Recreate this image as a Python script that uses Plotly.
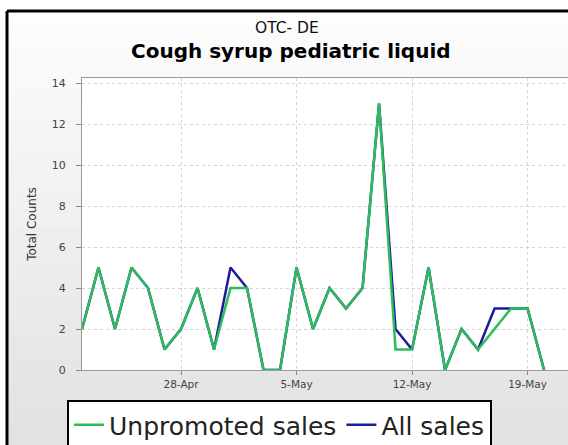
import pandas as pd
import plotly.graph_objects as go

dates = pd.date_range("2012-04-22", "2012-05-20", freq="D")
all_sales = [2, 5, 2, 5, 4, 1, 2, 4, 1, 5, 4, 0, 0, 5, 2, 4, 3, 4, 13, 2, 1, 5, 0, 2, 1, 3, 3, 3, 0]
unpromoted_sales = [2, 5, 2, 5, 4, 1, 2, 4, 1, 4, 4, 0, 0, 5, 2, 4, 3, 4, 13, 1, 1, 5, 0, 2, 1, 2, 3, 3, 0]
tick_dates = ["2012-04-28", "2012-05-05", "2012-05-12", "2012-05-19"]
tick_labels = ["28-Apr", "5-May", "12-May", "19-May"]
y_ticks = [0, 2, 4, 6, 8, 10, 12, 14]

W, H = 568, 445
ML, MR, MT, MB = 82, 0, 78, 75
pw, ph = W - ML - MR, H - MT - MB


def px(x):
    # window x pixel -> paper coordinate
    return (x - ML) / pw


def py(y):
    # window y pixel -> paper coordinate
    return (H - MB - y) / ph


fig = go.Figure()
fig.add_trace(
    go.Scatter(
        x=dates, y=all_sales, mode="lines", name="All sales",
        line=dict(color="#1c1c9c", width=2.5), legendrank=2,
    )
)
fig.add_trace(
    go.Scatter(
        x=dates, y=unpromoted_sales, mode="lines", name="Unpromoted sales",
        line=dict(color="#2dbb5c", width=2.5), legendrank=1,
    )
)

# soft vertical gradient behind the chart, white outside the frame
n_bands = 24
top, bottom = 11, 445
for i in range(n_bands):
    g = int(253 - (253 - 226) * i / (n_bands - 1))
    y0 = top + (bottom - top) * i / n_bands
    y1 = top + (bottom - top) * (i + 1) / n_bands
    fig.add_shape(type="rect", xref="paper", yref="paper", x0=px(7), x1=px(575),
                  y0=py(y1 + 1), y1=py(y0), fillcolor=f"rgb({g},{g},{g})",
                  line_width=0, layer="below")
fig.add_shape(type="rect", xref="paper", yref="paper", x0=0, x1=1, y0=0, y1=1,
              fillcolor="white", line_width=0, layer="below")

# black frame
fig.add_shape(type="line", xref="paper", yref="paper", x0=px(7), x1=px(575), y0=py(11), y1=py(11),
              line=dict(color="black", width=3))
fig.add_shape(type="line", xref="paper", yref="paper", x0=px(7), x1=px(7), y0=py(11), y1=py(450),
              line=dict(color="black", width=3))

fig.add_annotation(text="OTC- DE", xref="paper", yref="paper", x=px(287), y=py(28),
                   xanchor="center", yanchor="middle",
                   showarrow=False, font=dict(size=15.5, color="#111"))
fig.add_annotation(text="<b>Cough syrup pediatric liquid</b>", xref="paper", yref="paper",
                   x=px(291), y=py(51), xanchor="center", yanchor="middle",
                   showarrow=False, font=dict(size=20, color="#000"))

fig.update_layout(
    width=W, height=H,
    margin=dict(l=ML, r=MR, t=MT, b=MB, autoexpand=False),
    paper_bgcolor="white",
    plot_bgcolor="white",
    font=dict(family="DejaVu Sans", color="#444"),
    legend=dict(
        orientation="h", x=px(67), xanchor="left", y=py(400), yanchor="top",
        bgcolor="white", bordercolor="black", borderwidth=2,
        font=dict(size=25, color="#222"), itemwidth=30,
    ),
)
fig.update_xaxes(
    range=["2012-04-22", "2012-05-21 10:48"],
    tickvals=tick_dates, ticktext=tick_labels,
    showgrid=True, gridcolor="#d4d4d4", griddash="dot",
    showline=True, linecolor="#999", mirror=True,
    ticks="outside", ticklen=4, tickcolor="#888",
    tickfont=dict(size=10.5, color="#444"),
)
fig.update_yaxes(
    range=[0, 14.25], tickvals=y_ticks,
    title=dict(text="Total Counts", font=dict(size=12, color="#333"), standoff=12),
    showgrid=True, gridcolor="#d4d4d4", griddash="dot",
    showline=True, linecolor="#999", mirror=True, zeroline=False,
    ticks="outside", ticklen=5, tickcolor="#888", ticklabelstandoff=8,
    tickfont=dict(size=11, color="#444"),
)

# the page body has a default 8px margin; drop it so the figure fills the window
fig.write_html(
    "out.html",
    config={"displayModeBar": False},
    post_script="document.body.style.margin = '0';",
)
